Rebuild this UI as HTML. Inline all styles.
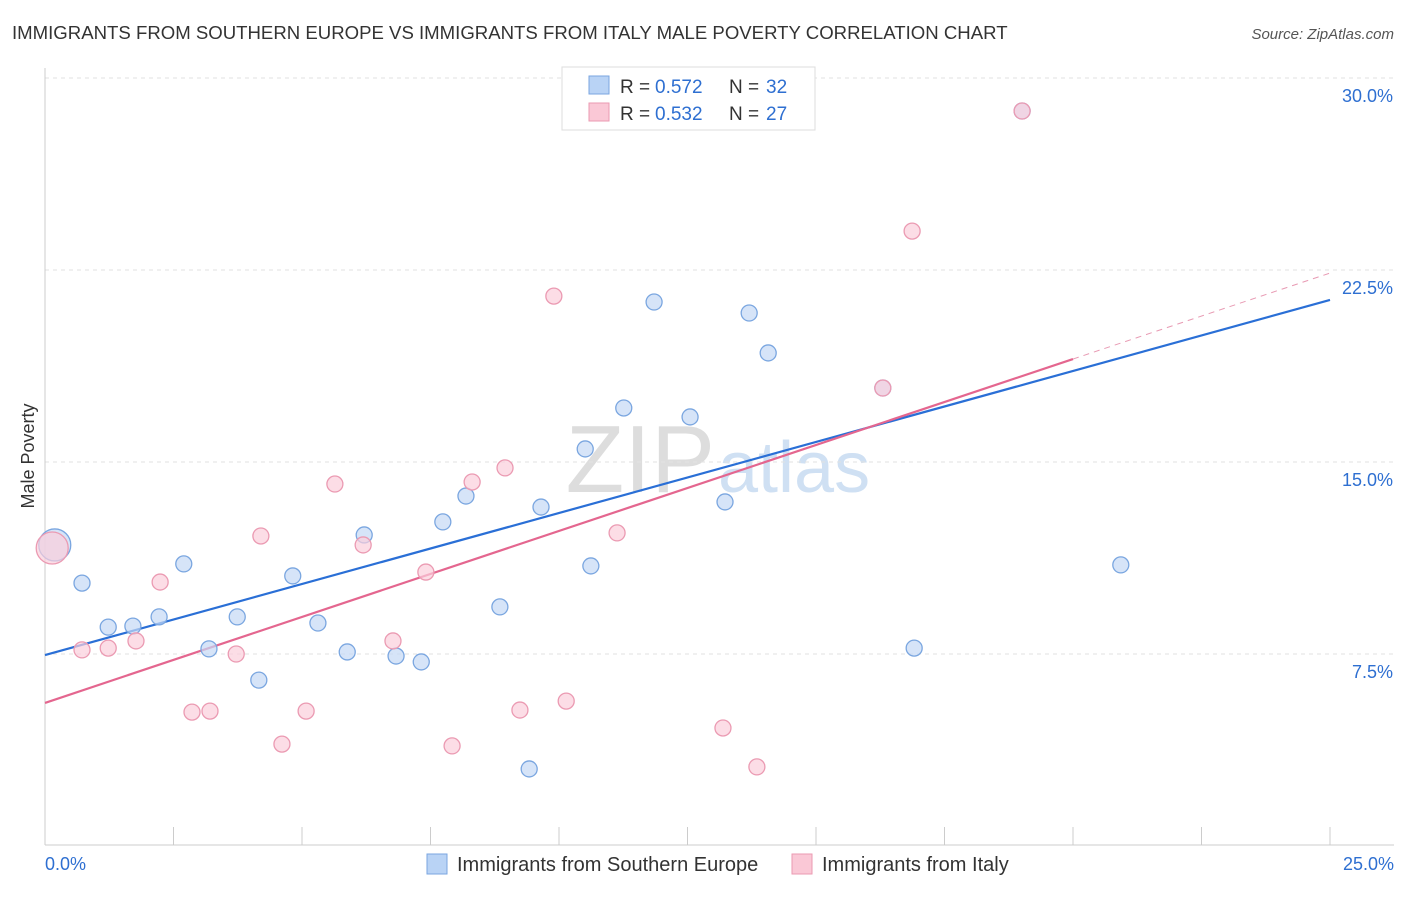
<!DOCTYPE html>
<html><head><meta charset="utf-8"><style>
body{margin:0;background:#fff;font-family:"Liberation Sans",sans-serif;}
svg text{font-family:"Liberation Sans",sans-serif;}
</style></head><body>
<svg width="1406" height="892" xmlns="http://www.w3.org/2000/svg">
<text x="12" y="39" font-size="18.6" fill="#333">IMMIGRANTS FROM SOUTHERN EUROPE VS IMMIGRANTS FROM ITALY MALE POVERTY CORRELATION CHART</text>
<text x="1394" y="39" font-size="15" fill="#555" font-style="italic" text-anchor="end">Source: ZipAtlas.com</text>
<text x="715" y="492" font-size="96" fill="#ddd" font-family="Liberation Serif" text-anchor="end">ZIP</text>
<text x="718" y="492" font-size="72" fill="#cfe0f3">atlas</text>
<g id="grid"></g>
<g id="axes"></g>
<g id="lines"></g>
<g id="pts"></g>
<text x="34" y="456" font-size="18" fill="#333" text-anchor="middle" transform="rotate(-90 34 456)">Male Poverty</text>
<g>
<rect x="562" y="67" width="253" height="63" fill="#fff" stroke="#ddd"/>
<rect x="589" y="76" width="20" height="18" fill="#b9d3f5" stroke="#7aa6e0"/>
<rect x="589" y="103" width="20" height="18" fill="#fac8d6" stroke="#eb9ab2"/>
<text x="620" y="93" font-size="19" fill="#333">R =</text>
<text x="655" y="93" font-size="19" fill="#2e6fd1">0.572</text>
<text x="729" y="93" font-size="19" fill="#333">N =</text>
<text x="766" y="93" font-size="19" fill="#2e6fd1">32</text>
<text x="620" y="120" font-size="19" fill="#333">R =</text>
<text x="655" y="120" font-size="19" fill="#2e6fd1">0.532</text>
<text x="729" y="120" font-size="19" fill="#333">N =</text>
<text x="766" y="120" font-size="19" fill="#2e6fd1">27</text>
</g>
<g>
<rect x="427" y="854" width="20" height="20" fill="#b9d3f5" stroke="#7aa6e0"/>
<text x="457" y="871" font-size="20" fill="#333">Immigrants from Southern Europe</text>
<rect x="792" y="854" width="20" height="20" fill="#fac8d6" stroke="#eb9ab2"/>
<text x="822" y="871" font-size="20" fill="#333">Immigrants from Italy</text>
</g>
</svg>
<script>
const blueX=[0.72,1.23,1.71,2.22,2.70,3.19,3.74,4.16,4.82,5.31,5.88,6.21,6.83,7.32,7.74,8.19,8.85,9.42,9.65,10.51,10.62,11.26,11.85,12.55,13.23,13.70,14.07,16.30,16.91,19.01,20.93,0.19];
const blueY=[10.27,8.55,8.59,8.95,11.02,7.70,8.95,6.48,10.55,8.71,7.58,12.15,7.42,7.19,12.66,13.67,9.34,3.01,13.24,15.51,10.94,17.11,21.25,16.76,13.44,20.82,19.26,17.89,7.73,28.71,10.98,11.76];
const pinkX=[0.72,1.23,1.77,2.24,2.86,3.21,3.72,4.20,4.61,5.08,5.64,6.19,6.77,7.41,7.92,8.31,8.95,9.24,9.90,10.14,11.13,13.19,13.85,16.30,16.87,19.01,0.14];
const pinkY=[7.66,7.73,8.01,10.31,5.23,5.27,7.50,12.11,3.98,5.27,14.14,11.76,8.01,10.70,3.91,14.22,14.77,5.31,21.48,5.66,12.23,4.61,3.09,17.89,24.02,28.71,11.64];
const blueBig=[31], pinkBig=[26];
const blueLine=[7.46,21.33];
const pinkLine=[5.59,22.38];
const pinkSolidEnd=20;
const yTicks=[7.5,15,22.5,30];
const yTickLabels=["7.5%","15.0%","22.5%","30.0%"];
const xTickLabels=["0.0%","25.0%"];
const NS="http://www.w3.org/2000/svg";
const X=v=>45+v*51.4, Y=v=>846-v*25.6;
function mk(p,t,a){const e=document.createElementNS(NS,t);for(const k in a)e.setAttribute(k,a[k]);document.getElementById(p).appendChild(e);return e;}
yTicks.forEach((t,i)=>{
 const l=mk('grid','line',{x1:45,x2:1394,y1:Y(t),y2:Y(t),stroke:'#e2e2e2','stroke-dasharray':'4 4'});
 
 
 const tx=mk('grid','text',{x:1393,y:Y(t)+24,'font-size':18,fill:'#2e6fd1','text-anchor':'end'});
 tx.textContent=yTickLabels[i];
 
 
});
const ax=mk('axes','line',{x1:45,x2:1394,y1:845,y2:845,stroke:'#ccc'});


const ay=mk('axes','line',{x1:45,x2:45,y1:68,y2:845,stroke:'#ccc'});


for(let i=0;i<=10;i++){const t=mk('axes','line',{x1:X(i*2.5),x2:X(i*2.5),y1:827,y2:845,stroke:'#ccc'});
 
 }
[[0,'start',45],[25,'end',1394]].forEach((d,i)=>{const t=mk('axes','text',{x:d[2],y:870,'font-size':18,fill:'#2e6fd1','text-anchor':d[1]});t.textContent=xTickLabels[i];
 
 });
function dot(x,y,big,fill,stroke,name){const c=mk('pts','circle',{cx:X(x),cy:Y(y),r:big?16:8,fill:fill,stroke:stroke,'stroke-width':1.3,'fill-opacity':0.7});
 
 }
blueX.forEach((x,i)=>dot(x,blueY[i],blueBig.includes(i),'#c4d9f5','#7aa6e0','blue-point'));
pinkX.forEach((x,i)=>dot(x,pinkY[i],pinkBig.includes(i),'#fbcfdc','#eb9ab2','pink-point'));
const bl=mk('lines','line',{x1:X(0),y1:Y(blueLine[0]),x2:X(25),y2:Y(blueLine[1]),stroke:'#2a6fd6','stroke-width':2.2});


const pAt=x=>pinkLine[0]+(pinkLine[1]-pinkLine[0])*x/25;
const pl=mk('lines','line',{x1:X(0),y1:Y(pAt(0)),x2:X(pinkSolidEnd),y2:Y(pAt(pinkSolidEnd)),stroke:'#e4668f','stroke-width':2.2});


const pd=mk('lines','line',{x1:X(pinkSolidEnd),y1:Y(pAt(pinkSolidEnd)),x2:X(25),y2:Y(pAt(25)),stroke:'#e89ab3','stroke-width':1,'stroke-dasharray':'6 5'});


</script>
</body></html>
